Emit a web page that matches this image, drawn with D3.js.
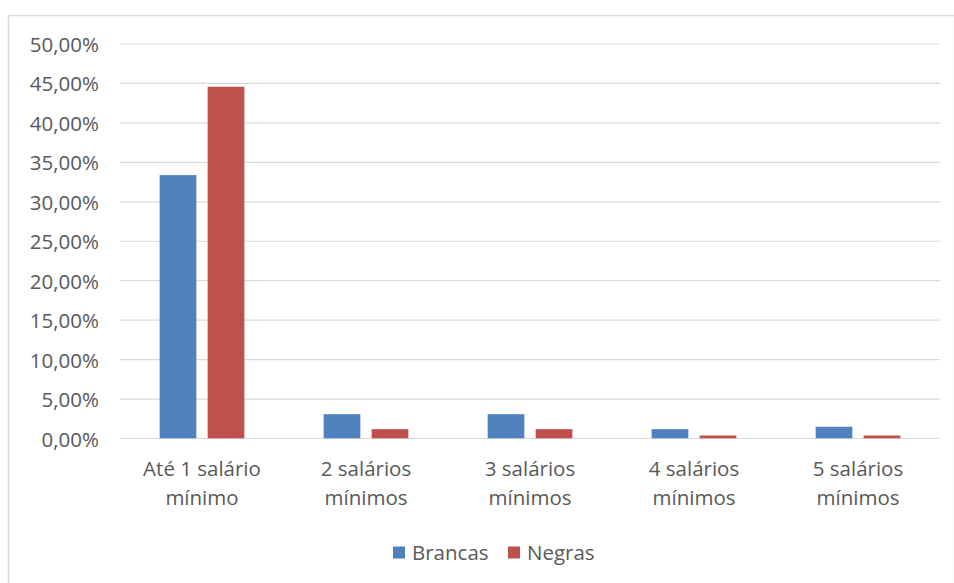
<!DOCTYPE html>
<html>
<head>
<meta charset="utf-8">
<script src="https://cdn.jsdelivr.net/npm/d3@7"></script>
<style>
  html, body { margin: 0; padding: 0; background: #fff; }
  svg { display: block; font-family: 'Open Sans', Lato, sans-serif; }
</style>
</head>
<body>
<svg id="chart" width="954" height="583"></svg>
<script>
// data
const categories = ['Até 1 salário mínimo', '2 salários mínimos', '3 salários mínimos', '4 salários mínimos', '5 salários mínimos'];
const categoryLines = [['Até 1 salário', 'mínimo'], ['2 salários', 'mínimos'], ['3 salários', 'mínimos'], ['4 salários', 'mínimos'], ['5 salários', 'mínimos']];
const seriesNames = ['Brancas', 'Negras'];
const brancas = [33.4, 3.1, 3.1, 1.2, 1.5];
const negras = [44.6, 1.2, 1.2, 0.4, 0.4];
const yTicks = [0, 5, 10, 15, 20, 25, 30, 35, 40, 45, 50];

const colors = { Brancas: '#4f81bd', Negras: '#c0504d' };

const svg = d3.select('#chart');
const W = 954, H = 583;
const m = { left: 120, right: 14, top: 44, bottom: 144.5 };
const fontSize = 20.5;

// outer frame
svg.append('rect')
  .attr('x', 8.5).attr('y', 15.5)
  .attr('width', W - 8).attr('height', H)
  .attr('fill', '#fff').attr('stroke', '#d9d9d9').attr('stroke-width', 1.5);

const x = d3.scaleBand().domain(categories).range([m.left, W - m.right]);
const y = d3.scaleLinear().domain([0, 50]).range([H - m.bottom, m.top]);

// gridlines
svg.append('g').selectAll('line')
  .data(yTicks)
  .join('line')
  .attr('x1', m.left).attr('x2', W - m.right)
  .attr('y1', d => y(d)).attr('y2', d => y(d))
  .attr('stroke', '#d9d9d9').attr('stroke-width', 1.2);

// y labels
const fmt = d => d.toFixed(2).replace('.', ',') + '%';
svg.append('g').selectAll('text')
  .data(yTicks)
  .join('text')
  .attr('x', 99).attr('y', d => y(d))
  .attr('text-anchor', 'end').attr('dominant-baseline', 'central')
  .attr('font-size', fontSize).attr('fill', '#595959')
  .text(fmt);

// bars
const barW = 37, gap = 11;
const rows = categories.map((c, i) => ({ cat: c, values: [brancas[i], negras[i]] }));
const grp = svg.append('g').selectAll('g')
  .data(rows)
  .join('g')
  .attr('transform', d => `translate(${x(d.cat) + x.bandwidth() / 2},0)`);

grp.selectAll('rect')
  .data(d => d.values.map((v, j) => ({ v, s: seriesNames[j], j })))
  .join('rect')
  .attr('x', d => d.j === 0 ? -barW - gap / 2 : gap / 2)
  .attr('width', barW)
  .attr('y', d => y(d.v))
  .attr('height', d => y(0) - y(d.v))
  .attr('fill', d => colors[d.s])
  .attr('stroke', '#fff').attr('stroke-opacity', 0.35).attr('stroke-width', 0.8);

// category labels
svg.append('g').selectAll('text')
  .data(categories)
  .join('text')
  .attr('x', d => x(d) + x.bandwidth() / 2)
  .attr('y', 469)
  .attr('text-anchor', 'middle')
  .attr('font-size', fontSize).attr('fill', '#595959')
  .each(function (d, i) {
    const t = d3.select(this);
    categoryLines[i].forEach((line, k) => {
      t.append('tspan')
        .attr('x', x(d) + x.bandwidth() / 2)
        .attr('dy', k === 0 ? '0.35em' : 29)
        .text(line);
    });
  });

// legend
const legend = svg.append('g');
const legendX = [393, 508];
seriesNames.forEach((s, i) => {
  legend.append('rect')
    .attr('x', legendX[i]).attr('y', 546.5)
    .attr('width', 12).attr('height', 12)
    .attr('fill', colors[s]);
  legend.append('text')
    .attr('x', legendX[i] + 19).attr('y', 552)
    .attr('dominant-baseline', 'central')
    .attr('font-size', fontSize).attr('fill', '#595959')
    .text(s);
});
</script>
</body>
</html>
